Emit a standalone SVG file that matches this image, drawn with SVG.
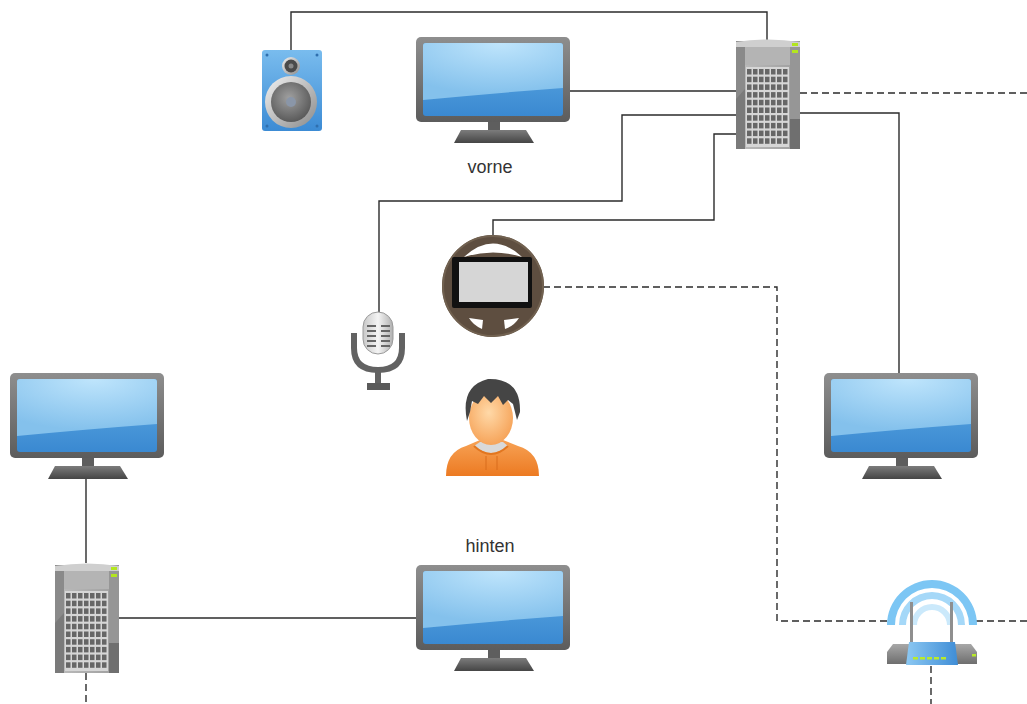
<svg xmlns="http://www.w3.org/2000/svg" xmlns:xlink="http://www.w3.org/1999/xlink" width="1027" height="704" viewBox="0 0 1027 704">
  <style>
    .wire { fill: none; stroke: #2b2b2b; stroke-width: 1.4; }
    .dash { stroke-dasharray: 7 4; }
    .label { font-family: "Liberation Sans", Arial, sans-serif; font-size: 18px; fill: #333; text-anchor: middle; }
  </style>
  <defs>
    <linearGradient id="bezel" x1="0" y1="0" x2="0" y2="1">
      <stop offset="0" stop-color="#8e8e8e"/>
      <stop offset="1" stop-color="#5c5c5c"/>
    </linearGradient>
    <linearGradient id="screenLow" x1="0" y1="0" x2="0" y2="1">
      <stop offset="0" stop-color="#62ace4"/>
      <stop offset="1" stop-color="#3a89d1"/>
    </linearGradient>
    <radialGradient id="screenHigh" cx="0.55" cy="0" r="0.9">
      <stop offset="0" stop-color="#bfe5fc"/>
      <stop offset="1" stop-color="#84c1ec"/>
    </radialGradient>
    <linearGradient id="standG" x1="0" y1="0" x2="0" y2="1">
      <stop offset="0" stop-color="#7c7c7c"/>
      <stop offset="1" stop-color="#454545"/>
    </linearGradient>
    <linearGradient id="srvBody" x1="0" y1="0" x2="1" y2="0">
      <stop offset="0" stop-color="#b9b9b9"/>
      <stop offset="1" stop-color="#a2a2a2"/>
    </linearGradient>
    <linearGradient id="spkBox" x1="0" y1="0" x2="0" y2="1">
      <stop offset="0" stop-color="#79bcee"/>
      <stop offset="1" stop-color="#3c8bd4"/>
    </linearGradient>
    <radialGradient id="cone" cx="0.45" cy="0.4" r="0.6">
      <stop offset="0" stop-color="#a0a0a0"/>
      <stop offset="1" stop-color="#5a5a5a"/>
    </radialGradient>
    <linearGradient id="ring" x1="0" y1="0" x2="1" y2="1">
      <stop offset="0" stop-color="#f2f2f2"/>
      <stop offset="1" stop-color="#8a8a8a"/>
    </linearGradient>
    <linearGradient id="micG" x1="0" y1="0" x2="1" y2="0">
      <stop offset="0" stop-color="#c8c8c8"/>
      <stop offset="0.5" stop-color="#f4f4f4"/>
      <stop offset="1" stop-color="#b0b0b0"/>
    </linearGradient>
    <radialGradient id="face" cx="0.45" cy="0.4" r="0.6">
      <stop offset="0" stop-color="#ffd9a8"/>
      <stop offset="1" stop-color="#f6a45a"/>
    </radialGradient>
    <linearGradient id="hood" x1="0" y1="0" x2="0" y2="1">
      <stop offset="0" stop-color="#f7a255"/>
      <stop offset="1" stop-color="#ec7a22"/>
    </linearGradient>
    <linearGradient id="routerBase" x1="0" y1="0" x2="0" y2="1">
      <stop offset="0" stop-color="#a8a8a8"/>
      <stop offset="1" stop-color="#6e6e6e"/>
    </linearGradient>
    <linearGradient id="routerMid" x1="0" y1="0" x2="1" y2="0">
      <stop offset="0" stop-color="#8cc8f2"/>
      <stop offset="1" stop-color="#3f8dd6"/>
    </linearGradient>

    <!-- flat-screen monitor, 154 x 106 -->
    <g id="monitor">
      <rect x="0" y="0" width="154" height="85" rx="5" fill="url(#bezel)"/>
      <rect x="7" y="6" width="140" height="73" rx="3" fill="url(#screenLow)"/>
      <path d="M10 6 H144 Q147 6 147 9 V51 Q80 56 7 63 V9 Q7 6 10 6 Z" fill="url(#screenHigh)"/>
      <rect x="72" y="85" width="12" height="9" fill="#5e5e5e"/>
      <path d="M45 93 H110 L118 106 H38 Z" fill="url(#standG)"/>
    </g>

    <!-- tower server, 64 x 110 -->
    <g id="server">
      <rect x="0" y="2" width="64" height="108" fill="#9a9a9a"/>
      <rect x="0" y="2" width="9" height="108" fill="#8a8a8a"/>
      <path d="M0 60 L9 50 V110 H0 Z" fill="#7a7a7a"/>
      <rect x="9" y="2" width="45" height="108" fill="url(#srvBody)"/>
      <rect x="54" y="2" width="10" height="108" fill="#969696"/>
      <rect x="54" y="80" width="10" height="30" fill="#6f6f6f"/>
      <path d="M0 3 Q32 -2 64 3 V8 H0 Z" fill="#cfcfcf"/>
      <rect x="9" y="8" width="45" height="18" fill="#b4b4b4"/>
      <rect x="56" y="4" width="6" height="3" fill="#b3e61e"/>
      <rect x="56" y="11" width="6" height="3" fill="#b3e61e"/>
      <rect x="10" y="28" width="43" height="80" fill="#d6d6d6"/>
      <g fill="#666">
        <rect x="11" y="30" width="4.5" height="5.5"/><rect x="17" y="30" width="4.5" height="5.5"/><rect x="23" y="30" width="4.5" height="5.5"/><rect x="29" y="30" width="4.5" height="5.5"/><rect x="35" y="30" width="4.5" height="5.5"/><rect x="41" y="30" width="4.5" height="5.5"/><rect x="47" y="30" width="4.5" height="5.5"/>
        <rect x="11" y="37.7" width="4.5" height="5.5"/><rect x="17" y="37.7" width="4.5" height="5.5"/><rect x="23" y="37.7" width="4.5" height="5.5"/><rect x="29" y="37.7" width="4.5" height="5.5"/><rect x="35" y="37.7" width="4.5" height="5.5"/><rect x="41" y="37.7" width="4.5" height="5.5"/><rect x="47" y="37.7" width="4.5" height="5.5"/>
        <rect x="11" y="45.4" width="4.5" height="5.5"/><rect x="17" y="45.4" width="4.5" height="5.5"/><rect x="23" y="45.4" width="4.5" height="5.5"/><rect x="29" y="45.4" width="4.5" height="5.5"/><rect x="35" y="45.4" width="4.5" height="5.5"/><rect x="41" y="45.4" width="4.5" height="5.5"/><rect x="47" y="45.4" width="4.5" height="5.5"/>
        <rect x="11" y="53.1" width="4.5" height="5.5"/><rect x="17" y="53.1" width="4.5" height="5.5"/><rect x="23" y="53.1" width="4.5" height="5.5"/><rect x="29" y="53.1" width="4.5" height="5.5"/><rect x="35" y="53.1" width="4.5" height="5.5"/><rect x="41" y="53.1" width="4.5" height="5.5"/><rect x="47" y="53.1" width="4.5" height="5.5"/>
        <rect x="11" y="60.8" width="4.5" height="5.5"/><rect x="17" y="60.8" width="4.5" height="5.5"/><rect x="23" y="60.8" width="4.5" height="5.5"/><rect x="29" y="60.8" width="4.5" height="5.5"/><rect x="35" y="60.8" width="4.5" height="5.5"/><rect x="41" y="60.8" width="4.5" height="5.5"/><rect x="47" y="60.8" width="4.5" height="5.5"/>
        <rect x="11" y="68.5" width="4.5" height="5.5"/><rect x="17" y="68.5" width="4.5" height="5.5"/><rect x="23" y="68.5" width="4.5" height="5.5"/><rect x="29" y="68.5" width="4.5" height="5.5"/><rect x="35" y="68.5" width="4.5" height="5.5"/><rect x="41" y="68.5" width="4.5" height="5.5"/><rect x="47" y="68.5" width="4.5" height="5.5"/>
        <rect x="11" y="76.2" width="4.5" height="5.5"/><rect x="17" y="76.2" width="4.5" height="5.5"/><rect x="23" y="76.2" width="4.5" height="5.5"/><rect x="29" y="76.2" width="4.5" height="5.5"/><rect x="35" y="76.2" width="4.5" height="5.5"/><rect x="41" y="76.2" width="4.5" height="5.5"/><rect x="47" y="76.2" width="4.5" height="5.5"/>
        <rect x="11" y="83.9" width="4.5" height="5.5"/><rect x="17" y="83.9" width="4.5" height="5.5"/><rect x="23" y="83.9" width="4.5" height="5.5"/><rect x="29" y="83.9" width="4.5" height="5.5"/><rect x="35" y="83.9" width="4.5" height="5.5"/><rect x="41" y="83.9" width="4.5" height="5.5"/><rect x="47" y="83.9" width="4.5" height="5.5"/>
        <rect x="11" y="91.6" width="4.5" height="5.5"/><rect x="17" y="91.6" width="4.5" height="5.5"/><rect x="23" y="91.6" width="4.5" height="5.5"/><rect x="29" y="91.6" width="4.5" height="5.5"/><rect x="35" y="91.6" width="4.5" height="5.5"/><rect x="41" y="91.6" width="4.5" height="5.5"/><rect x="47" y="91.6" width="4.5" height="5.5"/>
        <rect x="11" y="99.3" width="4.5" height="5.5"/><rect x="17" y="99.3" width="4.5" height="5.5"/><rect x="23" y="99.3" width="4.5" height="5.5"/><rect x="29" y="99.3" width="4.5" height="5.5"/><rect x="35" y="99.3" width="4.5" height="5.5"/><rect x="41" y="99.3" width="4.5" height="5.5"/><rect x="47" y="99.3" width="4.5" height="5.5"/>
      </g>
    </g>
  </defs>

  <!-- connectors -->
  <g id="connectors">
    <polyline class="wire" points="291,50 291,12 767,12 767,40"/>
    <line class="wire" x1="570" y1="91" x2="736" y2="91"/>
    <polyline class="wire" points="736,115 622,115 622,201 379,201 379,312"/>
    <polyline class="wire" points="736,134 714,134 714,220 493,220 493,237"/>
    <line class="wire dash" x1="800" y1="93" x2="1027" y2="93"/>
    <polyline class="wire" points="800,113 899,113 899,374"/>
    <polyline class="wire dash" points="543,287 777,287 777,621 887,621"/>
    <line class="wire dash" x1="976" y1="621" x2="1027" y2="621"/>
    <line class="wire dash" x1="931" y1="666" x2="931" y2="704"/>
    <line class="wire" x1="86" y1="478" x2="86" y2="563"/>
    <line class="wire" x1="119" y1="618" x2="416" y2="618"/>
    <line class="wire dash" x1="86" y1="673" x2="86" y2="704"/>
  </g>

  <!-- loudspeaker -->
  <g id="speaker">
    <rect x="262" y="50" width="60" height="81" rx="3" fill="url(#spkBox)"/>
    <circle cx="267" cy="55" r="1.5" fill="#2f6fae"/>
    <circle cx="317" cy="55" r="1.5" fill="#2f6fae"/>
    <circle cx="267" cy="126" r="1.5" fill="#2f6fae"/>
    <circle cx="317" cy="126" r="1.5" fill="#2f6fae"/>
    <circle cx="291" cy="66" r="9" fill="url(#ring)"/>
    <circle cx="291" cy="66" r="6.5" fill="#4a4a4a"/>
    <circle cx="291" cy="66" r="2.5" fill="#888"/>
    <circle cx="291" cy="102" r="26" fill="url(#ring)"/>
    <circle cx="291" cy="102" r="20" fill="url(#cone)"/>
    <circle cx="291" cy="102" r="5" fill="#8a96a8"/>
  </g>

  <!-- front monitor -->
  <g id="monitor-front">
    <use xlink:href="#monitor" x="416" y="37"/>
    <text class="label" x="490" y="173">vorne</text>
  </g>

  <!-- main server -->
  <g id="server-main">
    <use xlink:href="#server" x="736" y="39"/>
  </g>

  <!-- steering wheel with display -->
  <g id="wheel">
    <circle cx="493" cy="286" r="51" fill="#5e4e40"/>
    <circle cx="493" cy="286" r="50" fill="none" stroke="#716150" stroke-width="2"/>
    <path d="M464 257 Q493 230 522 257 Q493 248 464 257 Z" fill="#ffffff"/>
    <path d="M469 318 L483 320 L482 329 Q473 325 469 318 Z" fill="#ffffff"/>
    <path d="M504 320 L519 318 Q514 326 505 329 Z" fill="#ffffff"/>
    <rect x="452" y="257" width="80" height="51" rx="2" fill="#111"/>
    <rect x="459" y="262" width="69" height="40" fill="#d6d6d6"/>
  </g>

  <!-- microphone -->
  <g id="microphone">
    <rect x="363" y="312" width="30" height="42" rx="15" fill="url(#micG)" stroke="#9a9a9a" stroke-width="1"/>
    <g fill="#666">
      <rect x="367" y="325" width="9" height="2"/><rect x="381" y="325" width="9" height="2"/>
      <rect x="367" y="330" width="9" height="2"/><rect x="381" y="330" width="9" height="2"/>
      <rect x="367" y="335" width="9" height="2"/><rect x="381" y="335" width="9" height="2"/>
      <rect x="367" y="340" width="9" height="2"/><rect x="381" y="340" width="9" height="2"/>
      <rect x="367" y="345" width="9" height="2"/><rect x="381" y="345" width="9" height="2"/>
    </g>
    <path d="M354 333 V348 Q354 370 378 370 Q402 370 402 348 V333" fill="none" stroke="#626262" stroke-width="6"/>
    <rect x="375" y="369" width="6" height="15" fill="#626262"/>
    <rect x="367" y="383" width="23" height="7" fill="#5a5a5a"/>
  </g>

  <!-- person -->
  <g id="person">
    <path d="M446 476 Q446 452 466 446 L480 440 H503 L518 446 Q539 452 539 476 Z" fill="url(#hood)"/>
    <path d="M474 446 Q491 460 508 446 L503 442 H480 Z" fill="#d9d9d9"/>
    <path d="M474 446 Q491 462 508 446" fill="none" stroke="#e2761f" stroke-width="2"/>
    <line x1="486" y1="456" x2="486" y2="470" stroke="#d96d1c" stroke-width="1"/>
    <line x1="497" y1="456" x2="497" y2="470" stroke="#d96d1c" stroke-width="1"/>
    <ellipse cx="491" cy="418" rx="22" ry="27" fill="url(#face)"/>
    <path d="M467 421 Q460 386 488 379 Q521 378 520 412 L517 420 L513 404 L508 400 L503 405 L498 396 L491 403 L484 396 L478 404 L472 401 L470 412 Z" fill="#454545"/>
  </g>

  <!-- right monitor -->
  <g id="monitor-right">
    <use xlink:href="#monitor" x="824" y="373"/>
  </g>

  <!-- left monitor -->
  <g id="monitor-left">
    <use xlink:href="#monitor" x="10" y="373"/>
  </g>

  <!-- rear server -->
  <g id="server-rear">
    <use xlink:href="#server" x="55" y="563"/>
  </g>

  <!-- rear monitor -->
  <g id="monitor-rear">
    <text class="label" x="490" y="552">hinten</text>
    <use xlink:href="#monitor" x="416" y="565"/>
  </g>

  <!-- wireless router -->
  <g id="router">
    <path d="M887 625 A45 45 0 0 1 977 625 H969 A37 37 0 0 0 895 625 Z" fill="#7cc6f4"/>
    <path d="M899 625 A33 33 0 0 1 965 625 H958 A26 26 0 0 0 906 625 Z" fill="#a5d8f8"/>
    <path d="M911 625 A21 21 0 0 1 953 625 H947 A15 15 0 0 0 917 625 Z" fill="#cbe9fb"/>
    <rect x="910" y="602" width="3" height="44" fill="#8f8f8f"/>
    <rect x="950" y="602" width="3" height="44" fill="#8f8f8f"/>
    <path d="M893 644 H971 L977 652 V664 H887 V652 Z" fill="url(#routerBase)"/>
    <path d="M909 642 H955 L958 665 H906 Z" fill="url(#routerMid)"/>
    <g fill="#b8ea2a">
      <rect x="913" y="657" width="5" height="2.5"/>
      <rect x="920" y="657" width="5" height="2.5"/>
      <rect x="927" y="657" width="5" height="2.5"/>
      <rect x="934" y="657" width="5" height="2.5"/>
      <rect x="941" y="657" width="5" height="2.5"/>
      <rect x="972" y="654" width="4" height="2.5"/>
    </g>
  </g>
</svg>
